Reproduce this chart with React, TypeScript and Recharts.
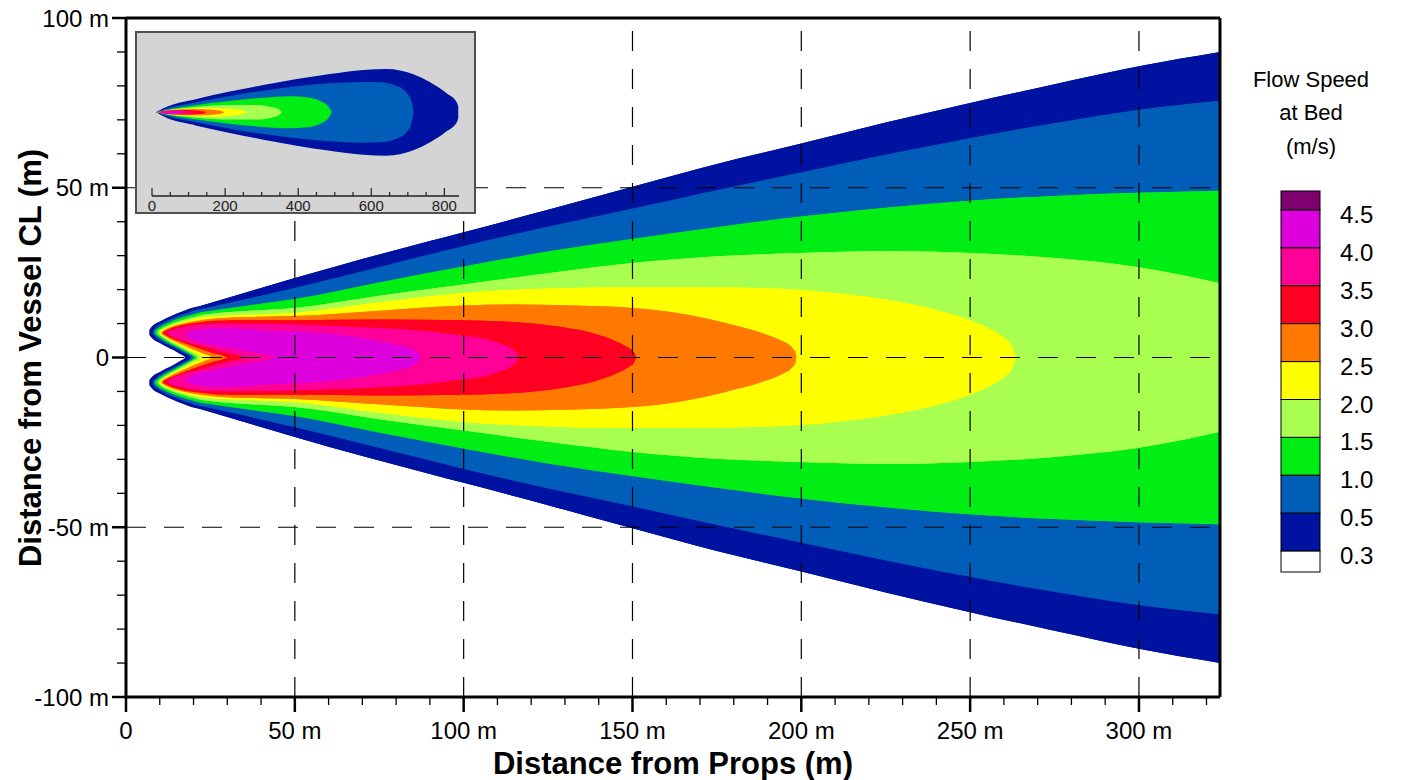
import React from 'react';
import { ComposedChart, Area, XAxis, YAxis, ReferenceLine } from 'recharts';

const FONT = '"Liberation Sans", Arial, Helvetica, sans-serif';

// ---------- colours ----------
// contour levels drawn (outermost first): 0.3, 0.5, 1.0, 1.5, 2.0, 2.5, 3.0, 3.5, 4.0
const BAND_COLORS = ['#0012A0', '#005EB8', '#00EE14', '#A8FF50', '#FFFF00', '#FF7800', '#FF0022', '#FF0099', '#DD00DD'];
const LEGEND_LABELS = ['4.5', '4.0', '3.5', '3.0', '2.5', '2.0', '1.5', '1.0', '0.5', '0.3'];
const LEGEND_COLORS = ['#800070', '#DD00DD', '#FF0099', '#FF0022', '#FF7800', '#FFFF00', '#A8FF50', '#00EE14', '#005EB8', '#0012A0', '#FFFFFF'];

// ---------- main plot contour boundaries (m) ----------
// X = distance from props, HI = outer half-width, LO = inner (notch side) edge of the prop lobes
const X03 = [6.9, 8, 10, 12, 14, 16, 17.5, 17.8, 22, 30, 40, 50, 70, 90, 100, 125, 150, 175, 200, 225, 250, 275, 300, 324];
const HI03 = [8.2, 9.5, 10.6, 11.6, 12.5, 13.3, 13.9, 14.0, 15.2, 17.5, 20.5, 23.4, 29.0, 34.3, 36.9, 43.5, 50.3, 57.0, 63.0, 69.2, 75.0, 80.5, 85.8, 90.0];
const LO03 = [6.6, 5.4, 4.3, 3.2, 2.2, 1.0, 0];

const X05 = [8.0, 9, 11, 13, 15, 17, 19.3, 19.6, 25, 30, 40, 50, 75, 100, 125, 150, 175, 200, 225, 250, 275, 300, 324];
const HI05 = [8.0, 9.0, 10.2, 11.2, 12.0, 12.8, 13.5, 13.6, 14.8, 15.9, 18.2, 20.5, 26.6, 32.8, 38.5, 43.8, 49.3, 54.5, 59.7, 64.6, 69.0, 72.9, 75.6];
const LO05 = [6.8, 5.9, 4.6, 3.5, 2.5, 1.4, 0];

const X10 = [8.6, 10, 12, 14, 16, 18, 20.2, 20.5, 25, 30, 40, 50, 75, 100, 125, 150, 175, 200, 225, 250, 275, 300, 324];
const HI10 = [7.9, 9.0, 10.0, 10.9, 11.6, 12.2, 12.8, 12.9, 13.7, 14.4, 15.8, 17.2, 22.1, 26.8, 31.2, 34.9, 38.4, 41.5, 44.1, 46.2, 47.6, 48.5, 49.1];
const LO10 = [6.9, 5.8, 4.6, 3.5, 2.5, 1.4, 0];

const X15 = [9.4, 11, 13, 15, 17, 19, 21.2, 21.5, 25, 30, 40, 50, 75, 100, 125, 150, 175, 200, 225, 250, 275, 300, 324];
const HI15 = [7.8, 8.8, 9.7, 10.5, 11.1, 11.7, 12.2, 12.3, 12.8, 13.3, 13.9, 14.6, 18.2, 21.5, 24.8, 27.8, 29.8, 30.8, 31.4, 30.8, 29.3, 26.6, 21.9];
const LO15 = [6.9, 5.8, 4.6, 3.5, 2.4, 1.3, 0];

const X20 = [10.0, 12, 14, 16, 18, 20, 22.5, 22.8, 30, 40, 50, 75, 100, 125, 150, 175, 200, 215, 230, 245, 255, 260, 262.5, 263.6];
const HI20 = [7.7, 8.8, 9.6, 10.2, 10.8, 11.3, 11.8, 11.85, 12.3, 12.7, 13.2, 16.3, 19.0, 20.3, 20.8, 20.7, 19.9, 18.4, 16.2, 12.6, 8.8, 5.8, 3.2, 0];
const LO20 = [6.9, 5.6, 4.5, 3.5, 2.4, 1.3, 0];

const X25 = [10.5, 12, 14, 17, 20, 23, 25.5, 25.8, 30, 40, 50, 75, 100, 115, 130, 150, 165, 178, 188, 194, 197, 198.2, 198.5];
const HI25 = [7.6, 8.5, 9.3, 10.1, 10.7, 11.1, 11.4, 11.42, 11.7, 12.0, 12.2, 13.8, 15.3, 15.6, 15.4, 14.6, 12.8, 10.0, 7.3, 5.0, 3.2, 1.6, 0];
const LO25 = [6.9, 6.0, 4.9, 3.6, 2.3, 1.1, 0];

const X30 = [11.0, 13, 16, 19, 22, 26, 30, 30.3, 40, 50, 75, 100, 110, 120, 130, 138, 145, 148.5, 150.5, 151];
const HI30 = [7.5, 8.5, 9.4, 10.0, 10.4, 10.8, 11.0, 11.0, 11.0, 11.0, 11.2, 11.0, 10.7, 10.1, 8.8, 7.2, 4.8, 3.0, 1.4, 0];
const LO30 = [6.9, 5.9, 4.7, 3.6, 2.5, 1.2, 0];

const X35 = [12.5, 15, 18, 22, 26, 30, 35, 35.3, 45, 60, 75, 90, 99, 106, 111, 114.5, 115.7, 116];
const HI35 = [7.5, 8.5, 9.2, 9.7, 9.9, 10.0, 9.9, 9.9, 9.8, 9.3, 8.7, 7.6, 6.5, 5.5, 4.0, 2.3, 1.2, 0];
const LO35 = [6.7, 5.6, 4.6, 3.5, 2.4, 1.3, 0];

const X40 = [18, 20, 25, 30, 35, 40, 44, 44.3, 55, 65, 75, 82, 85.5, 86.7, 87];
const HI40 = [7.2, 8.0, 8.6, 8.7, 8.5, 8.1, 7.8, 7.78, 7.3, 6.4, 4.8, 3.3, 2.0, 1.0, 0];
const LO40 = [6.2, 5.0, 3.9, 2.9, 2.0, 1.0, 0];

// ---------- inset (whole plume) half-widths (m) ----------
const IX03 = [11, 31, 122, 213, 305, 396, 487, 578, 642, 715, 761, 806, 834, 838];
const IH03 = [0, 11, 36.5, 56.6, 74.8, 91.2, 104.9, 115.9, 118.6, 104, 82, 52, 27, 15.5];
const IX05 = [12, 31, 122, 213, 305, 396, 487, 578, 623, 669, 697, 710, 716];
const IH05 = [0, 7.3, 27.4, 44.7, 59.3, 71.2, 79.4, 83, 82.1, 72.1, 53.8, 29.2, 0];
const IX10 = [13, 31, 122, 213, 305, 378, 423, 460, 483, 492];
const IH10 = [0, 4.6, 20, 31, 40, 43.8, 41, 31, 15.5, 0];
const IX15 = [14, 31, 122, 213, 287, 323, 346, 355];
const IH15 = [0, 3.6, 14.6, 20, 20, 15.5, 9, 0];
const IX20 = [15, 31, 76, 168, 213, 245, 263];
const IH20 = [0, 2.7, 9, 12, 10, 5.5, 0];
const IX25 = [16, 49, 122, 168, 190, 198];
const IH25 = [0, 6, 9, 7, 3.5, 0];
const IX30 = [17, 40, 80, 120, 140, 151];
const IH30 = [0, 4, 6, 5, 3, 0];
const IX35 = [19, 30, 60, 95, 116];
const IH35 = [0, 3, 4.5, 3.5, 0];
const IX40 = [25, 45, 70, 87];
const IH40 = [0, 3, 3, 0];

// ---------- ticks ----------
const X_MINOR_TICKS = [0, 10, 20, 30, 40, 50, 60, 70, 80, 90, 100, 110, 120, 130, 140, 150, 160, 170, 180, 190, 200, 210, 220, 230, 240, 250, 260, 270, 280, 290, 300, 310, 320];
const X_MAJOR_TICKS = [0, 50, 100, 150, 200, 250, 300];
const X_MAJOR_LABELS = ['0', '50 m', '100 m', '150 m', '200 m', '250 m', '300 m'];
const Y_MINOR_TICKS = [-100, -90, -80, -70, -60, -50, -40, -30, -20, -10, 0, 10, 20, 30, 40, 50, 60, 70, 80, 90, 100];
const Y_MAJOR_TICKS = [-100, -50, 0, 50, 100];
const Y_MAJOR_LABELS = ['-100 m', '-50 m', '0', '50 m', '100 m'];
const X_GRID = [50, 100, 150, 200, 250, 300];
const Y_GRID = [-50, 0, 50];
const INSET_TICKS = [0, 50, 100, 150, 200, 250, 300, 350, 400, 450, 500, 550, 600, 650, 700, 750, 800];
const INSET_MAJOR = [0, 200, 400, 600, 800];
const INSET_LABELS = ['0', '200', '400', '600', '800'];

// ---------- build series ----------
function lobeBand(xs: number[], his: number[], los: number[]) {
  return xs.map((x, i) => {
    const hi = his[i];
    const lo = los[i];
    return {
      x,
      up: [lo == null ? -hi : lo, hi],
      dn: [-hi, lo == null ? hi : -lo],
    };
  });
}
function symBand(xs: number[], hs: number[]) {
  return xs.map((x, i) => ({ x, r: [-hs[i], hs[i]] }));
}

const MAIN_BANDS = [
  lobeBand(X03, HI03, LO03),
  lobeBand(X05, HI05, LO05),
  lobeBand(X10, HI10, LO10),
  lobeBand(X15, HI15, LO15),
  lobeBand(X20, HI20, LO20),
  lobeBand(X25, HI25, LO25),
  lobeBand(X30, HI30, LO30),
  lobeBand(X35, HI35, LO35),
  lobeBand(X40, HI40, LO40),
];
const INSET_BANDS = [
  symBand(IX03, IH03),
  symBand(IX05, IH05),
  symBand(IX10, IH10),
  symBand(IX15, IH15),
  symBand(IX20, IH20),
  symBand(IX25, IH25),
  symBand(IX30, IH30),
  symBand(IX35, IH35),
  symBand(IX40, IH40),
];

// ---------- tick renderers ----------
const XTick = (props: any) => {
  const { x, y, payload } = props;
  const i = X_MAJOR_TICKS.indexOf(payload.value);
  const major = i >= 0;
  return (
    <g>
      <line x1={x} x2={x} y1={y} y2={y + (major ? 15 : 8)} stroke="#000" strokeWidth={major ? 2.5 : 1.3} />
      {major && (
        <text x={x} y={y + 42} textAnchor="middle" fontSize={24} fontFamily={FONT} fill="#000">
          {X_MAJOR_LABELS[i]}
        </text>
      )}
    </g>
  );
};

const YTick = (props: any) => {
  const { x, y, payload } = props;
  const i = Y_MAJOR_TICKS.indexOf(payload.value);
  const major = i >= 0;
  return (
    <g>
      <line x1={x} x2={x - (major ? 14 : 9)} y1={y} y2={y} stroke="#000" strokeWidth={major ? 2.5 : 1.3} />
      {major && (
        <text x={x - 17} y={y + 8.5} textAnchor="end" fontSize={24} fontFamily={FONT} fill="#000">
          {Y_MAJOR_LABELS[i]}
        </text>
      )}
    </g>
  );
};

const InsetTick = (props: any) => {
  const { x, y, payload } = props;
  const i = INSET_MAJOR.indexOf(payload.value);
  const major = i >= 0;
  return (
    <g>
      <line x1={x} x2={x} y1={y} y2={y - (major ? 8 : 4)} stroke="#222" strokeWidth={1.2} />
      {major && (
        <text x={x} y={y + 14.5} textAnchor="middle" fontSize={15} fontFamily={FONT} fill="#222">
          {INSET_LABELS[i]}
        </text>
      )}
    </g>
  );
};

const GRID_STYLE = { stroke: '#000', strokeWidth: 1.2, strokeDasharray: '20 18' };

export default function App() {
  // legend geometry
  const barX = 1281;
  const barW = 39;
  const bounds = [191, 210, 247.9, 285.8, 323.7, 361.6, 399.5, 437.4, 475.3, 513.2, 551.1, 572];

  const mainAreas: React.ReactElement[] = [];
  MAIN_BANDS.forEach((band, k) => {
    ['up', 'dn'].forEach((key) => {
      mainAreas.push(
        <Area
          key={key + k}
          data={band}
          dataKey={key}
          type="monotone"
          fill={BAND_COLORS[k]}
          fillOpacity={1}
          stroke="none"
          dot={false}
          activeDot={false}
          isAnimationActive={false}
        />
      );
    });
  });

  return (
    <div style={{ position: 'absolute', left: 0, top: 0, width: 1404, height: 780, background: '#fff', fontFamily: FONT }}>
      <ComposedChart width={1404} height={780} margin={{ top: 18, right: 184, bottom: 0, left: 0 }}>
        <XAxis
          dataKey="x"
          type="number"
          domain={[0, 324]}
          allowDataOverflow
          ticks={X_MINOR_TICKS}
          interval={0}
          height={83}
          tickSize={0}
          tickMargin={0}
          tickLine={false}
          axisLine={{ stroke: '#000', strokeWidth: 3 }}
          tick={XTick}
        />
        <YAxis
          type="number"
          domain={[-100, 100]}
          allowDataOverflow
          ticks={Y_MINOR_TICKS}
          interval={0}
          width={126}
          tickSize={0}
          tickMargin={0}
          tickLine={false}
          axisLine={{ stroke: '#000', strokeWidth: 3 }}
          tick={YTick}
        />
        {mainAreas}
        {X_GRID.map((v) => (
          <ReferenceLine key={'gx' + v} segment={[{ x: v, y: -100 }, { x: v, y: 100 }]} {...GRID_STYLE} />
        ))}
        {Y_GRID.map((v) => (
          <ReferenceLine key={'gy' + v} segment={[{ x: 0, y: v }, { x: 324, y: v }]} {...GRID_STYLE} />
        ))}
        <ReferenceLine y={100} stroke="#000" strokeWidth={3} />
        <ReferenceLine x={324} stroke="#000" strokeWidth={3} />
      </ComposedChart>

      {/* inset */}
      <div
        style={{
          position: 'absolute',
          left: 135,
          top: 31,
          width: 341,
          height: 183,
          boxSizing: 'border-box',
          border: '2px solid #505050',
          background: '#D4D4D4',
        }}
      >
        <ComposedChart width={337} height={179} margin={{ top: 0, right: 15, bottom: 0, left: 15 }}>
          <XAxis
            dataKey="x"
            type="number"
            domain={[0, 840]}
            allowDataOverflow
            ticks={INSET_TICKS}
            interval={0}
            height={16}
            tickSize={0}
            tickMargin={0}
            tickLine={false}
            axisLine={{ stroke: '#222', strokeWidth: 1.3 }}
            tick={InsetTick}
          />
          <YAxis type="number" domain={[-229, 217]} allowDataOverflow hide width={0} />
          {INSET_BANDS.map((band, k) => (
            <Area
              key={'i' + k}
              data={band}
              dataKey="r"
              type="monotone"
              fill={BAND_COLORS[k]}
              fillOpacity={1}
              stroke="none"
              dot={false}
              activeDot={false}
              isAnimationActive={false}
            />
          ))}
        </ComposedChart>
      </div>

      {/* titles and legend */}
      <svg width={1404} height={780} style={{ position: 'absolute', left: 0, top: 0, pointerEvents: 'none' }}>
        <text x={673} y={774} textAnchor="middle" fontSize={31} fontWeight="bold" fontFamily={FONT} fill="#000">
          Distance from Props (m)
        </text>
        <text
          x={0}
          y={0}
          transform="translate(41,358) rotate(-90)"
          textAnchor="middle"
          fontSize={31}
          fontWeight="bold"
          fontFamily={FONT}
          fill="#000"
        >
          Distance from Vessel CL (m)
        </text>
        <text x={1311} y={87} textAnchor="middle" fontSize={22} fontFamily={FONT} fill="#000">Flow Speed</text>
        <text x={1311} y={120} textAnchor="middle" fontSize={22} fontFamily={FONT} fill="#000">at Bed</text>
        <text x={1311} y={154} textAnchor="middle" fontSize={22} fontFamily={FONT} fill="#000">(m/s)</text>
        {LEGEND_COLORS.map((c, i) => (
          <rect
            key={'lb' + i}
            x={barX}
            y={bounds[i]}
            width={barW}
            height={bounds[i + 1] - bounds[i]}
            fill={c}
            stroke="#000"
            strokeWidth={1}
          />
        ))}
        {LEGEND_LABELS.map((t, i) => (
          <text key={'ll' + i} x={1340} y={bounds[i + 1] + 13} fontSize={24} fontFamily={FONT} fill="#000">
            {t}
          </text>
        ))}
      </svg>
    </div>
  );
}
